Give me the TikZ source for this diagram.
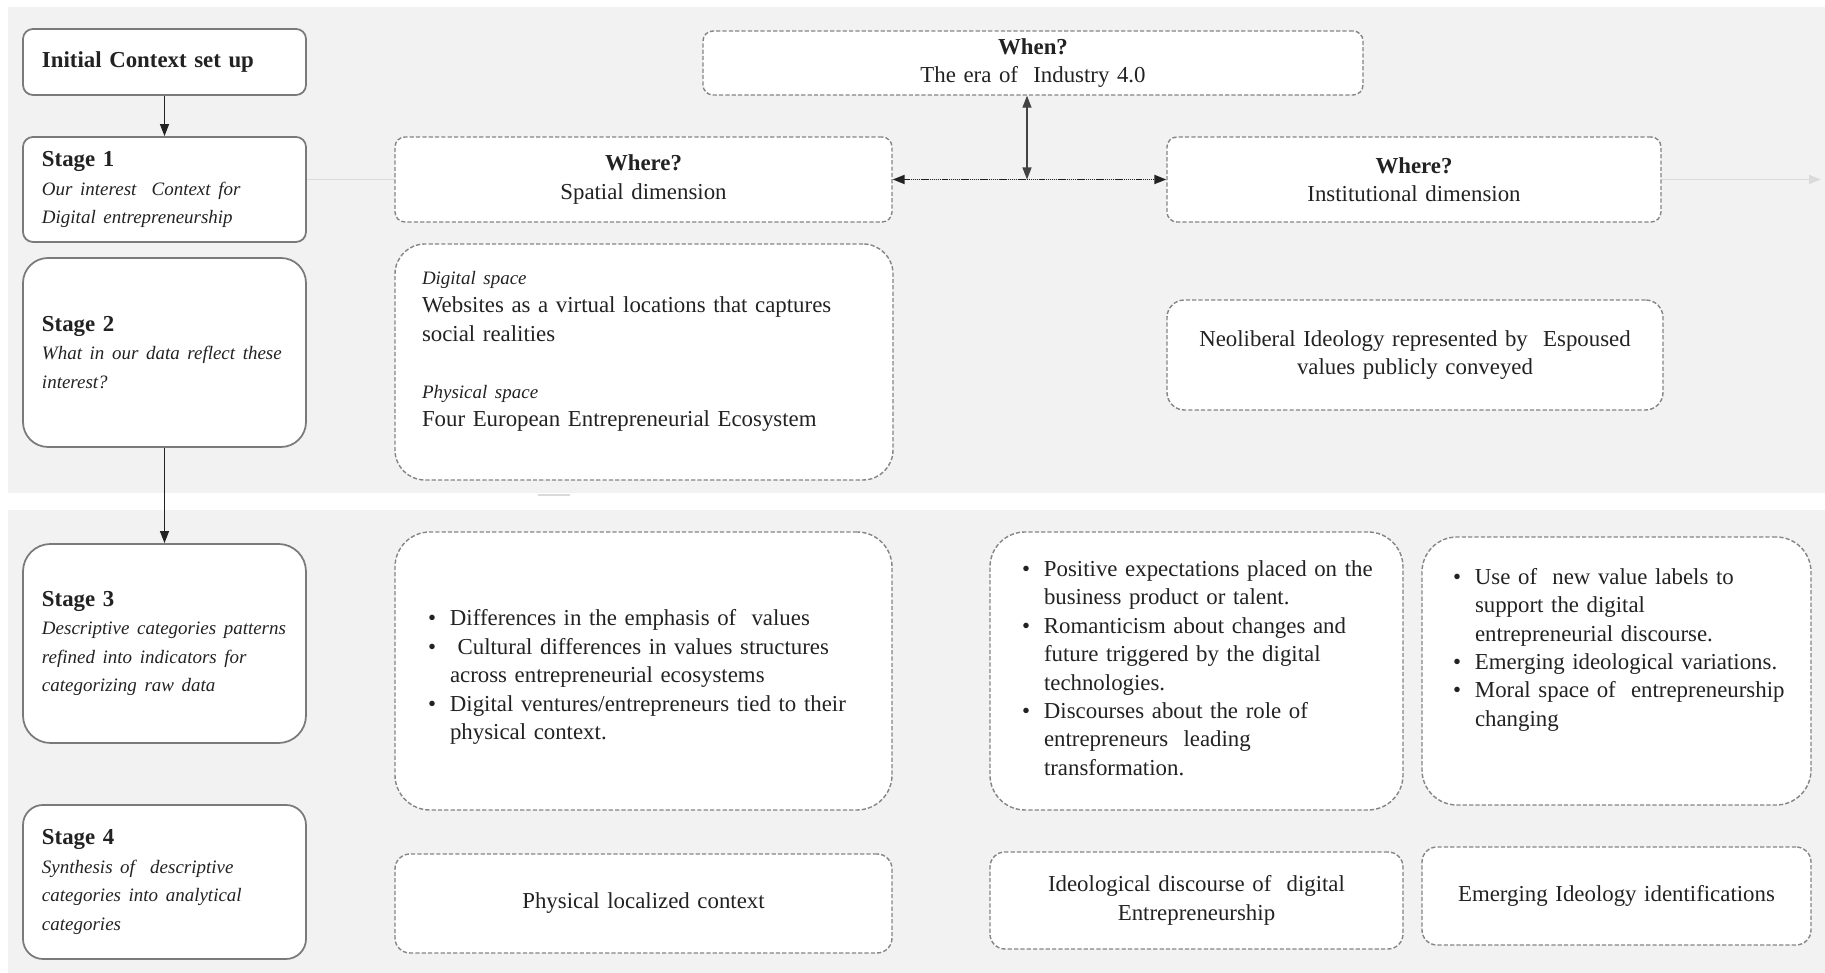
\documentclass[tikz,border=0pt]{standalone}
\usepackage{fontspec}
\setmainfont{Liberation Serif}
\usepackage{tikz}
\usetikzlibrary{arrows.meta,positioning}
\definecolor{panel}{HTML}{F2F2F2}
\definecolor{frameline}{HTML}{7A7A7A}
\definecolor{dashline}{HTML}{858585}
\definecolor{ink}{HTML}{222222}
\definecolor{faintline}{HTML}{DADADA}
\newcommand{\basefont}{\fontsize{13}{16.2}\selectfont}
\newcommand{\stagenote}[1]{{\fontsize{10.8}{16.2}\selectfont\itshape #1}}
\newcommand{\bitem}[1]{\par\hyphenpenalty=10000\rightskip=-0.4cm plus 1fil
  \hangindent=0.44cm\hangafter=1\noindent\makebox[0.44cm][l]{\textbullet}#1\par}
\tikzset{
  stage/.style={
    rounded corners=0.2cm,
    draw=frameline,
    line width=1pt,
    fill=white,
    align=left,
    font=\basefont,
    text=ink,
    inner xsep=0.38cm,
    text width=4.9cm,
    minimum width=5.66cm
  },
  dim/.style={
    rounded corners=0.2cm,
    draw=dashline,
    dash pattern=on 2.4pt off 1.2pt,
    line width=0.8pt,
    fill=white,
    align=center,
    font=\basefont,
    text=ink,
    inner xsep=0.2cm
  },
  list/.style={dim, rounded corners=0.7cm, align=left},
  flow/.style={draw=ink, line width=0.7pt, -{Triangle[length=2.4mm,width=1.8mm]}},
  twoway/.style={draw=ink!85, line width=0.7pt, {Triangle[length=2.4mm,width=1.8mm]}-{Triangle[length=2.4mm,width=1.8mm]}},
  faint/.style={draw=faintline, line width=1pt}
}

\begin{document}
\begin{tikzpicture}[x=1cm,y=1cm]
\path[use as bounding box] (0,0) rectangle (36.5,19.46);
\fill[panel] (0.16,9.6) rectangle (36.5,19.32);
\fill[panel] (0.16,0) rectangle (36.5,9.26);
\draw[faint, line width=1.2pt] (10.76,9.56) -- (11.40,9.56);

\node[stage, minimum height=1.32cm] (init) at (3.29,18.22) {\textbf{Initial Context set up}};
\node[stage, minimum height=2.10cm] (s1) at (3.29,15.67)
  {\textbf{Stage 1}\\\stagenote{Our interest\ \ Context for\\Digital entrepreneurship}};
\node[stage, rounded corners=0.5cm, minimum height=3.78cm] (s2) at (3.29,12.41)
  {\textbf{Stage 2}\\\stagenote{What in our data reflect these\\interest?}};
\node[stage, rounded corners=0.55cm, minimum height=3.98cm] (s3) at (3.29,6.59)
  {\textbf{Stage 3}\\\stagenote{Descriptive categories patterns\\refined into indicators for\\categorizing raw data}};
\node[stage, rounded corners=0.4cm, minimum height=3.08cm] (s4) at (3.29,1.82)
  {\textbf{Stage 4}\\\stagenote{Synthesis of\ \ descriptive\\categories into analytical\\categories}};
\draw[flow] (init) -- (s1);
\draw[flow] (s2) -- (s3);

\node[dim, minimum width=13.2cm, minimum height=1.28cm, text width=12cm] (when) at (20.66,18.20)
  {\textbf{When?}\\The era of\ \ Industry 4.0};
\node[dim, minimum width=9.94cm, minimum height=1.70cm, text width=9cm] (spatial) at (12.87,15.87)
  {\textbf{Where?}\\Spatial dimension};
\node[dim, minimum width=9.88cm, minimum height=1.70cm, text width=9cm] (inst) at (28.28,15.87)
  {\textbf{Where?}\\Institutional dimension};
\coordinate (hub) at (20.54,15.87);
\coordinate (rim) at (36.42,15.87);
\draw[faint] (s1.east |- spatial.west) -- (spatial.west);
\draw[twoway, draw=ink, line width=1.1pt, dash pattern=on 0.8pt off 0.4pt] (spatial) -- (inst);
\draw[twoway] (when.south -| hub) -- (hub);
\draw[faint, -{Triangle[length=2.4mm,width=1.8mm]}] (inst) -- (rim);

\node[dim, align=left, rounded corners=0.6cm, minimum width=9.96cm, minimum height=4.72cm,
  inner xsep=0.54cm, text width=8.88cm] (digital) at (12.88,12.22)
  {\stagenote{Digital space}\\Websites as a virtual locations that captures\\social realities\\[16.2pt]%
   \stagenote{Physical space}\\Four European Entrepreneurial Ecosystem\par\vspace*{0.42cm}};
\node[dim, rounded corners=0.35cm, minimum width=9.92cm, minimum height=2.2cm, text width=9cm] (neolib) at (28.30,12.36)
  {Neoliberal Ideology represented by\ \ Espoused\\values publicly conveyed};

\node[list, minimum width=9.94cm, minimum height=5.56cm, inner xsep=0.66cm, text width=8.62cm] (physlist) at (12.87,6.04)
  {\bitem{Differences in the emphasis of\ \ values}%
   \bitem{\ Cultural differences in values structures\newline across entrepreneurial ecosystems}%
   \bitem{Digital ventures/entrepreneurs tied to their\newline physical context.}};
\node[list, minimum width=8.26cm, minimum height=5.56cm, inner xsep=0.64cm, text width=6.98cm] (ideolist) at (23.93,6.04)
  {\bitem{Positive expectations placed on the\newline business product or talent.}%
   \bitem{Romanticism about changes and\newline future triggered by the digital\newline technologies.}%
   \bitem{Discourses about the role of\newline entrepreneurs\ \ leading\newline transformation.}\vspace*{0.37cm}};
\node[list, minimum width=7.78cm, minimum height=5.36cm, inner xsep=0.62cm, text width=6.54cm] (emerglist) at (32.33,6.04)
  {\bitem{Use of\ \ new value labels to\newline support the digital\newline entrepreneurial discourse.}%
   \bitem{Emerging ideological variations.}%
   \bitem{Moral space of\ \ entrepreneurship\newline changing}\vspace*{1.1cm}};

\node[dim, rounded corners=0.3cm, minimum width=9.94cm, minimum height=1.98cm, text width=9cm] (physout) at (12.87,1.39)
  {Physical localized context};
\node[dim, rounded corners=0.3cm, minimum width=8.26cm, minimum height=1.94cm, text width=7.6cm] (ideoout) at (23.93,1.45)
  {Ideological discourse of\ \ digital\\Entrepreneurship};
\node[dim, rounded corners=0.3cm, minimum width=7.78cm, minimum height=1.96cm, text width=7.2cm] (emergout) at (32.33,1.54)
  {Emerging Ideology identifications};
\end{tikzpicture}
\end{document}
